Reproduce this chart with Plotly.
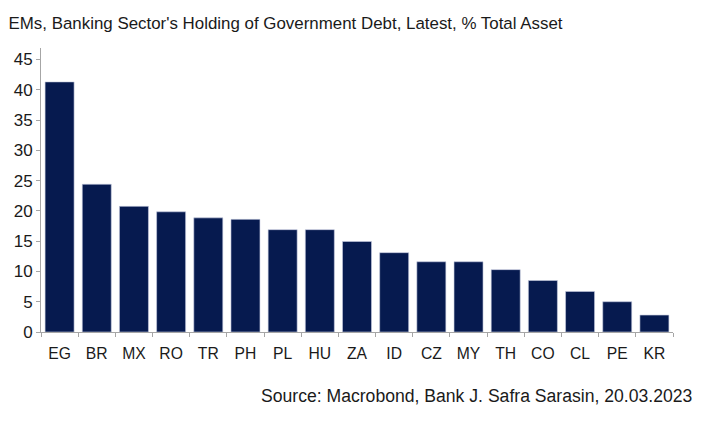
import plotly.graph_objects as go

categories = ["EG", "BR", "MX", "RO", "TR", "PH", "PL", "HU", "ZA", "ID",
              "CZ", "MY", "TH", "CO", "CL", "PE", "KR"]
values = [41.3, 24.4, 20.75, 19.85, 18.85, 18.6, 16.9, 16.9, 14.95, 13.1,
          11.6, 11.6, 10.3, 8.5, 6.7, 5.0, 2.8]
y_ticks = [0, 5, 10, 15, 20, 25, 30, 35, 40, 45]

title_text = "EMs, Banking Sector's Holding of Government Debt, Latest, % Total Asset"
source_text = "Source: Macrobond, Bank J. Safra Sarasin, 20.03.2023"

FONT = "Liberation Sans, Arial, sans-serif"
TXT = "#1a1a1a"
AXIS = "#a6a6a6"

# page body has an 8px offset; figure coordinates = screen - 8
W, H = 711, 423
L, T, B, R = 33, 40, 98.5, 46
plot_w = W - L - R
plot_h = H - T - B

fig = go.Figure(go.Bar(
    x=categories, y=values,
    marker=dict(color="#061a4f", line=dict(color="#c8cde0", width=0.6)),
    hoverinfo="x+y",
))

fig.update_layout(
    width=W, height=H,
    margin=dict(l=L, r=R, t=T, b=B),
    paper_bgcolor="white", plot_bgcolor="white",
    bargap=0.22,
    showlegend=False,
    font=dict(family=FONT, size=15, color=TXT),
    title=dict(text=title_text, x=0.5/W, xref="container", xanchor="left",
               y=1-15/H, yref="container", yanchor="middle",
               font=dict(family=FONT, size=16.9, color=TXT)),
    xaxis=dict(showline=True, linecolor=AXIS, linewidth=1, showgrid=False,
               ticks="outside", tickson="boundaries", ticklen=4, tickcolor=AXIS,
               tickfont=dict(family=FONT, size=15.7, color=TXT), ticklabelstandoff=7,
               automargin=False),
    yaxis=dict(range=[0, 46.9], showline=True, linecolor=AXIS, linewidth=1,
               showgrid=False, zeroline=False, tickvals=y_ticks,
               ticks="outside", ticklen=4, tickcolor=AXIS,
               tickfont=dict(family=FONT, size=17, color=TXT), automargin=False),
    annotations=[dict(text=source_text, xref="paper", yref="paper",
                      x=(687-L)/plot_w, y=(324.5-389)/plot_h, xanchor="right",
                      yanchor="middle", showarrow=False,
                      font=dict(family=FONT, size=17.6, color=TXT))],
)

fig.write_html("out.html")
